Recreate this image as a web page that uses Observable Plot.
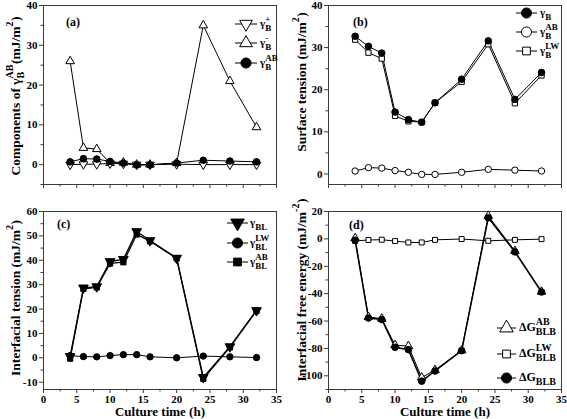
<!DOCTYPE html>
<html>
<head>
<meta charset="utf-8">
<script src="https://cdn.jsdelivr.net/npm/d3@7"></script>
<script src="https://cdn.jsdelivr.net/npm/@observablehq/plot@0.6"></script>
<style>
  html, body { margin: 0; padding: 0; background: #fff; }
  #wrap { position: relative; width: 567px; height: 419px; overflow: hidden; background: #fff; }
  .panel { position: absolute; }
  #overlay { position: absolute; left: 0; top: 0; pointer-events: none; }
  text { font-family: "Liberation Serif", "Times New Roman", serif; font-weight: bold; }
</style>
</head>
<body>
<div id="wrap">
  <div class="panel" id="pa" style="left:0;top:0"></div>
  <div class="panel" id="pb" style="left:283px;top:0"></div>
  <div class="panel" id="pc" style="left:0;top:200px"></div>
  <div class="panel" id="pd" style="left:283px;top:200px"></div>
  <svg id="overlay" width="567" height="419"></svg>
</div>
<script>
// ---------- data ----------
const time = [4, 6, 8, 10, 12, 14, 16, 20, 24, 28, 32];
// panel (a): components of gamma_B^AB
const gammaBPlus  = [0.0, 0.1, 0.1, 0.3, 0.2, 0.0, 0.0, 0.1, 0.0, 0.0, 0.0];
const gammaBMinus = [26.0, 4.2, 3.9, 0.4, 0.5, 0.0, 0.0, 0.4, 35.0, 21.0, 9.4];
const gammaBAB    = [0.7, 1.5, 1.4, 0.8, 0.4, -0.1, -0.1, 0.4, 1.1, 0.9, 0.7];
// panel (b): surface tension
const gammaB      = [32.7, 30.3, 28.7, 14.7, 12.9, 12.3, 16.9, 22.5, 31.6, 17.7, 24.1];
const gammaBLW    = [31.9, 28.8, 27.4, 13.8, 12.5, 12.3, 16.9, 21.9, 30.8, 16.8, 23.4];
// panel (c): interfacial tension
const gammaBL     = [0.6, 28.7, 29.2, 39.5, 40.4, 51.8, 48.1, 40.9, -8.0, 4.6, 19.4];
const gammaBLLW   = [0.9, 0.5, 0.4, 0.9, 1.3, 1.3, 0.4, 0.0, 0.7, 0.4, 0.1];
const gammaBLAB   = [-0.3, 28.3, 28.9, 38.7, 39.2, 50.6, 47.8, 40.8, -8.6, 4.3, 19.3];
// panel (d): interfacial free energy
const dGAB        = [0.5, -57.0, -58.3, -77.6, -78.3, -101.3, -95.8, -81.5, 16.8, -8.8, -38.6];
const dGLW        = [-1.5, -0.8, -0.6, -1.6, -2.6, -2.6, -0.7, -0.1, -1.4, -0.7, -0.2];
const dGTotal     = [-1.0, -57.8, -58.9, -79.2, -80.9, -103.9, -96.5, -81.6, 15.4, -9.5, -38.8];

const xTicks = [0, 5, 10, 15, 20, 25, 30, 35];
const xMinor = [2.5, 7.5, 12.5, 17.5, 22.5, 27.5, 32.5];

// ---------- symbols ----------
const triUp = { draw(ctx, size) { const R = Math.sqrt(size / 1.299); const h = R * Math.sin(Math.PI/3);
  ctx.moveTo(0, -R); ctx.lineTo(h, R/2); ctx.lineTo(-h, R/2); ctx.closePath(); } };
const triDown = { draw(ctx, size) { const R = Math.sqrt(size / 1.299); const h = R * Math.sin(Math.PI/3);
  ctx.moveTo(0, R); ctx.lineTo(h, -R/2); ctx.lineTo(-h, -R/2); ctx.closePath(); } };
const symMap = { triUp, triDown, circle: d3.symbolCircle, square: d3.symbolSquare };

function table(vals) { return time.map((t, i) => ({ t, v: vals[i] })); }

const FONT = '"Liberation Serif", "Times New Roman", serif';
const AX = "#3a3a3a";

function panel(el, opt) {
  const marks = [
    Plot.frame({ stroke: AX, strokeWidth: 1 }),
    Plot.axisX({ ticks: xTicks, tickSize: 4, tickPadding: 2, stroke: AX, label: null,
      tickFormat: opt.xLabels ? (d => String(d)) : (() => "") }),
    Plot.axisX({ ticks: xMinor, tickSize: 2.5, stroke: AX, label: null, tickFormat: () => "" }),
    Plot.axisY({ ticks: opt.yTicks, tickSize: 4, tickPadding: 2, stroke: AX, label: null, tickFormat: d => String(d) }),
    Plot.axisY({ ticks: opt.yMinor, tickSize: 2.5, stroke: AX, label: null, tickFormat: () => "" })
  ];
  for (const s of opt.series) {
    marks.push(Plot.line(table(s.vals), { x: "t", y: "v", stroke: "#000", strokeWidth: s.lw || 1 }));
  }
  for (const s of opt.series) {
    marks.push(Plot.dot(table(s.vals), { x: "t", y: "v", symbol: symMap[s.sym], r: s.r || 3.2,
      fill: s.filled ? "#000" : "#fff", stroke: "#000", strokeWidth: 1 }));
  }
  const chart = Plot.plot({
    width: opt.width, height: opt.height,
    marginLeft: opt.ml, marginRight: opt.mr, marginTop: opt.mt, marginBottom: opt.mb,
    x: { domain: [0, 35] },
    y: { domain: opt.yDomain },
    style: { fontFamily: FONT, fontWeight: "bold", fontSize: "11px", color: "#000", background: "transparent", overflow: "visible" },
    marks
  });
  document.getElementById(el).appendChild(chart);
}

panel("pa", { width: 283, height: 200, ml: 43, mr: 7, mt: 5, mb: 16, yDomain: [-5, 40],
  yTicks: [0, 10, 20, 30, 40], yMinor: [-5, 5, 15, 25, 35], xLabels: false,
  series: [
    { vals: gammaBMinus, sym: "triUp", filled: false, r: 3.2 },
    { vals: gammaBPlus, sym: "triDown", filled: false, r: 3.2 },
    { vals: gammaBAB, sym: "circle", filled: true, r: 3.3 }
  ] });

panel("pb", { width: 284, height: 200, ml: 45, mr: 6, mt: 5, mb: 16, yDomain: [-2.5, 40],
  yTicks: [0, 10, 20, 30, 40], yMinor: [5, 15, 25, 35], xLabels: false,
  series: [
    { vals: gammaBAB, sym: "circle", filled: false, r: 3.2 },
    { vals: gammaBLW, sym: "square", filled: false, r: 3.0 },
    { vals: gammaB, sym: "circle", filled: true, r: 3.3 }
  ] });

panel("pc", { width: 283, height: 219, ml: 43, mr: 7, mt: 11, mb: 30, yDomain: [-13, 60],
  yTicks: [-10, 0, 10, 20, 30, 40, 50, 60], yMinor: [-5, 5, 15, 25, 35, 45, 55], xLabels: true,
  series: [
    { vals: gammaBLLW, sym: "circle", filled: true, r: 3.2 },
    { vals: gammaBLAB, sym: "square", filled: true, r: 3.0, lw: 1.3 },
    { vals: gammaBL, sym: "triDown", filled: true, r: 3.6, lw: 1.3 }
  ] });

panel("pd", { width: 284, height: 219, ml: 45, mr: 6, mt: 11, mb: 30, yDomain: [-110, 20],
  yTicks: [-100, -80, -60, -40, -20, 0, 20], yMinor: [-110, -90, -70, -50, -30, -10, 10], xLabels: true,
  series: [
    { vals: dGLW, sym: "square", filled: false, r: 2.8 },
    { vals: dGAB, sym: "triUp", filled: false, r: 3.2 },
    { vals: dGTotal, sym: "circle", filled: true, r: 3.3, lw: 1.5 }
  ] });

// ---------- overlay text: titles, panel tags, legends ----------
const ov = d3.select("#overlay");

function rich(g, segs, fs, sfs) {
  let x = 0;
  for (const s of segs) {
    if (s.t !== undefined) {
      const t = g.append("text").attr("x", x).attr("y", 0).attr("font-size", fs).text(s.t);
      x += t.node().getComputedTextLength();
    } else {
      let w = 0;
      if (s.sub) { const t = g.append("text").attr("x", x).attr("y", fs * 0.32).attr("font-size", sfs).text(s.sub);
        w = Math.max(w, t.node().getComputedTextLength()); }
      if (s.sup) { const t = g.append("text").attr("x", x).attr("y", -fs * 0.5).attr("font-size", sfs).text(s.sup);
        w = Math.max(w, t.node().getComputedTextLength()); }
      x += w + 0.5;
    }
  }
  return x;
}

function yTitle(cx, cy, segs) {
  const g = ov.append("g").attr("transform", `translate(${cx},${cy}) rotate(-90)`);
  const inner = g.append("g");
  const w = rich(inner, segs, 13.5, 10);
  inner.attr("transform", `translate(${-w / 2},0)`);
}
function xTitle(cx, cy, text) {
  ov.append("text").attr("x", cx).attr("y", cy).attr("text-anchor", "middle").attr("font-size", 13).text(text);
}

yTitle(20, 96, [{ t: "Components of γ" }, { sub: "B", sup: "AB" }, { t: "(mJ/m" }, { sup: "2" }, { t: ")" }]);
yTitle(306, 82, [{ t: "Surface tension (mJ/m" }, { sup: "2" }, { t: ")" }]);
yTitle(20, 298, [{ t: "Interfacial tension (mJ/m" }, { sup: "2" }, { t: ")" }]);
yTitle(306, 290, [{ t: "Interfacial free energy (mJ/m" }, { sup: "-2" }, { t: ")" }]);

xTitle(160, 416, "Culture time (h)");
xTitle(445, 416, "Culture time (h)");

function tag(x, y, s) { ov.append("text").attr("x", x).attr("y", y).attr("font-size", 12).text(s); }
tag(66, 26, "(a)");
tag(353, 26, "(b)");
tag(57, 228, "(c)");
tag(349, 229, "(d)");

function legend(x1, x2, labelX, rows) {
  for (const r of rows) {
    ov.append("line").attr("x1", x1).attr("x2", x2).attr("y1", r.y).attr("y2", r.y).attr("stroke", "#000").attr("stroke-width", 1);
    const sym = d3.symbol().type(symMap[r.sym]).size(r.size || 60);
    ov.append("path").attr("d", sym()).attr("transform", `translate(${(x1 + x2) / 2},${r.y})`)
      .attr("fill", r.filled ? "#000" : "#fff").attr("stroke", "#000").attr("stroke-width", 1);
    const g = ov.append("g").attr("transform", `translate(${labelX},${r.y + 3})`);
    rich(g, r.segs, r.fs || 11, r.sfs || 9);
  }
}

legend(235, 257, 260, [
  { y: 24, sym: "triDown", filled: false, size: 70, segs: [{ t: "γ" }, { sub: "B", sup: "+" }] },
  { y: 43, sym: "triUp", filled: false, size: 70, segs: [{ t: "γ" }, { sub: "B", sup: "-" }] },
  { y: 63, sym: "circle", filled: true, size: 80, segs: [{ t: "γ" }, { sub: "B", sup: "AB" }] }
]);
legend(516, 537, 540, [
  { y: 13, sym: "circle", filled: true, size: 80, segs: [{ t: "γ" }, { sub: "B" }] },
  { y: 32, sym: "circle", filled: false, size: 80, segs: [{ t: "γ" }, { sub: "B", sup: "AB" }] },
  { y: 51, sym: "square", filled: false, size: 60, segs: [{ t: "γ" }, { sub: "B", sup: "LW" }] }
]);
legend(227, 248, 250, [
  { y: 223, sym: "triDown", filled: true, size: 80, segs: [{ t: "γ" }, { sub: "BL" }] },
  { y: 243, sym: "circle", filled: true, size: 80, segs: [{ t: "γ" }, { sub: "BL", sup: "LW" }] },
  { y: 262, sym: "square", filled: true, size: 60, segs: [{ t: "γ" }, { sub: "BL", sup: "AB" }] }
]);
legend(497, 516, 519, [
  { y: 328, sym: "triUp", filled: false, size: 80, fs: 12, sfs: 10, segs: [{ t: "ΔG" }, { sub: "BLB", sup: "AB" }] },
  { y: 354, sym: "square", filled: false, size: 60, fs: 12, sfs: 10, segs: [{ t: "ΔG" }, { sub: "BLB", sup: "LW" }] },
  { y: 378, sym: "circle", filled: true, size: 80, fs: 12, sfs: 10, segs: [{ t: "ΔG" }, { sub: "BLB" }] }
]);
</script>
</body>
</html>
